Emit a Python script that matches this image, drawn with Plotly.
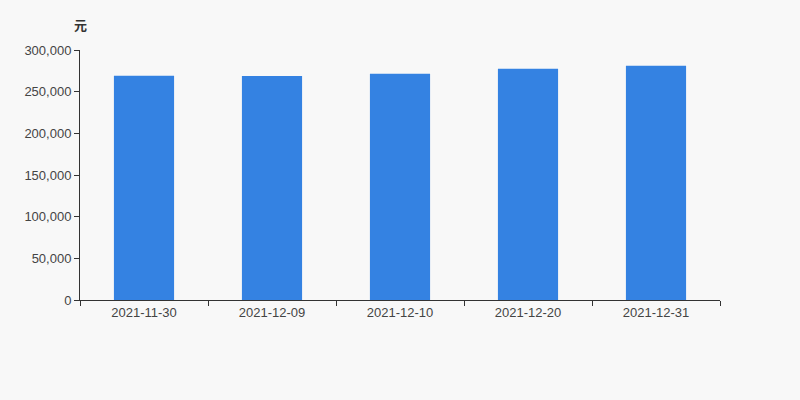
import plotly.graph_objects as go

categories = ["2021-11-30", "2021-12-09", "2021-12-10", "2021-12-20", "2021-12-31"]
values = [269000, 268800, 271500, 277500, 281000]
y_ticks = [0, 50000, 100000, 150000, 200000, 250000, 300000]

fig = go.Figure(go.Bar(x=categories, y=values, marker=dict(color="#3482e2", line=dict(width=0)),
                       hoverinfo="x+y"))

fig.update_layout(
    width=800, height=400,
    margin=dict(l=80, r=80, t=50, b=100),
    paper_bgcolor="#f8f8f8", plot_bgcolor="#f8f8f8",
    bargap=0.53,
    font=dict(family="Liberation Sans, Arial, sans-serif", size=13, color="#444444"),
    showlegend=False,
    xaxis=dict(type="category", showline=True, linecolor="#333333", linewidth=1,
               ticks="outside", tickson="boundaries", ticklen=5, tickcolor="#333333",
               showgrid=False, zeroline=False, tickfont=dict(size=13, color="#444444")),
    yaxis=dict(range=[0, 300000], tickvals=y_ticks, tickformat=",", showline=True,
               linecolor="#333333", linewidth=1, ticks="outside", ticklen=5,
               tickcolor="#333333", showgrid=False, zeroline=False,
               tickfont=dict(size=13, color="#444444")),
    annotations=[dict(text="<b>元</b>", xref="paper", yref="paper", x=0, y=1,
                      xanchor="center", yanchor="bottom", yshift=14, xshift=0,
                      showarrow=False, font=dict(size=13, color="#333333",
                      family="Noto Sans CJK SC"))],
)

fig.write_html("out.html", config={"displayModeBar": False},
               post_script="document.body.style.margin='0';document.body.style.background='#f8f8f8';")
